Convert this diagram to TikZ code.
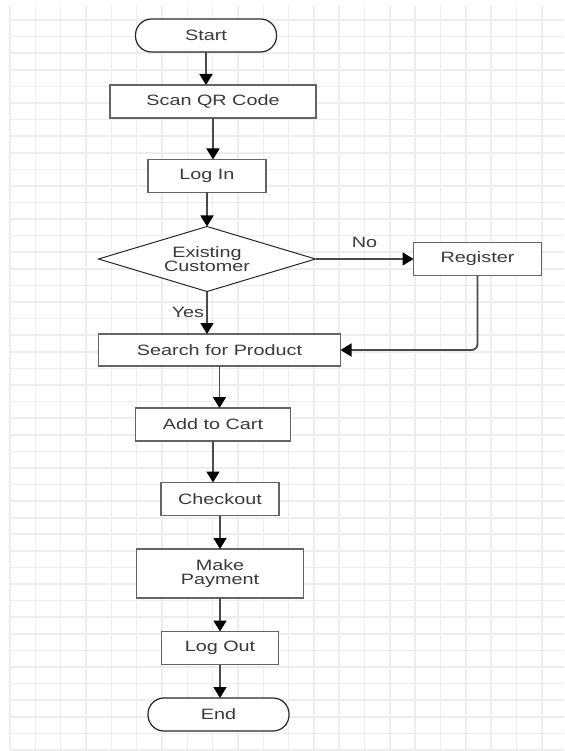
\documentclass[tikz,border=0pt]{standalone}
\usepackage{fontspec}
\newfontfamily\flowfont{Liberation Sans}[FakeStretch=1.32]
\usepackage{xcolor}
\usepackage{tikz}
\usetikzlibrary{shapes.geometric, arrows.meta, positioning}

\definecolor{gridgray}{HTML}{EDEDED}
\definecolor{boxgray}{HTML}{646464}
\definecolor{txtgray}{HTML}{3A3A3A}
\definecolor{lingray}{HTML}{4A4A4A}

\begin{document}
\begin{tikzpicture}[
      x=1pt, y=1pt,
      font=\flowfont\fontsize{15}{13.5}\selectfont,
      box/.style={draw=boxgray, line width=1.8pt, rectangle, minimum height=33pt,
          outer sep=0pt, align=center, text=txtgray, fill=white},
      term/.style={draw=black!85, line width=1.2pt, rectangle, rounded corners=16pt,
          outer sep=0pt, minimum width=141pt, minimum height=33pt, text=txtgray, fill=white},
      decision/.style={draw=black!85, line width=1pt, diamond, aspect=3.3, inner sep=0pt,
          outer sep=0pt, minimum width=217pt, minimum height=65pt, align=center,
          text=txtgray, fill=white},
      arr/.style={-{Triangle[width=13pt, length=11pt, color=black]}, draw=lingray, line width=1.8pt},
      lbl/.style={text=txtgray, inner sep=1pt},
      gridline/.style={draw=gridgray, line width=1.6pt},
    ]

    \useasboundingbox[fill=white] (0,0) rectangle (564,-751);
    \foreach \i in {0,...,21}
      \draw[gridline] ({10+25.33*\i},-6) -- ({10+25.33*\i},-750);
    \foreach \j in {0,...,44}
      \draw[gridline] (10,{-20-16.59*\j}) -- (564,{-20-16.59*\j});

    \node[term] (start) at (206,-35.5) {Start};
    \node[box, minimum width=206pt, below=33pt of start, xshift=7pt] (scan) {Scan QR Code};
    \node[box, minimum width=118pt, below=41.5pt of scan, xshift=-6pt] (login) {Log In};
    \node[decision, below=34pt of login] (cust) {Existing\\Customer};
    \node[box, minimum width=128pt, right=98pt of cust] (reg) {Register};
    \node[box, minimum width=242pt, minimum height=32pt, below=42.5pt of cust, xshift=12.5pt] (search) {Search for Product};
    \node[box, minimum width=155pt, below=42pt of search, xshift=-6.5pt] (cart) {Add to Cart};
    \node[box, minimum width=118pt, below=41.5pt of cart, xshift=7pt] (checkout) {Checkout};
    \node[box, minimum width=167pt, minimum height=49pt, below=33.5pt of checkout] (pay) {Make\\Payment};
    \node[box, minimum width=117pt, below=33.5pt of pay] (logout) {Log Out};
    \node[term, below=33.5pt of logout, xshift=-1.5pt] (end) {End};

    \draw[arr] (start.south) -- (start.south |- scan.north);
    \draw[arr] (scan.south) -- (scan.south |- login.north);
    \draw[arr] (login.south) -- (login.south |- cust.north);
    \draw[arr] (cust.east) -- node[lbl, midway, above=9pt] {No} (reg.west);
    \draw[arr] (cust.south) -- node[lbl, midway, left=1pt] {Yes} (cust.south |- search.north);
    \draw[arr, rounded corners=6pt] (reg.south) |- (search.east);
    \draw[arr] (search.south) -- (search.south |- cart.north);
    \draw[arr] (cart.south) -- (cart.south |- checkout.north);
    \draw[arr] (checkout.south) -- (checkout.south |- pay.north);
    \draw[arr] (pay.south) -- (pay.south |- logout.north);
    \draw[arr] (logout.south) -- (logout.south |- end.north);

  \end{tikzpicture}
\end{document}
